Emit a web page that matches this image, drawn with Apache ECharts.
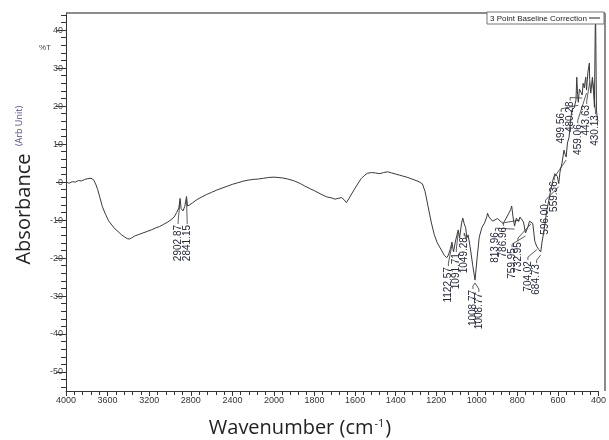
<!DOCTYPE html>
<html><head><meta charset="utf-8">
<script src="https://cdn.jsdelivr.net/npm/echarts@6/dist/echarts.min.js"></script>
<style>html,body{margin:0;padding:0;background:#fff}#c{width:609px;height:440px}</style>
</head><body><div id="c"></div>
<script>
// ---- data ----
const wavenumber = [
 4000,3970,3940,3910,3880,3850,3820,3790,3760,3735,3715,3695,3675,3650,3620,3590,3560,3530,3500,3470,3440,3410,3390,3370,3340,3300,3260,3220,3180,3140,3100,3060,3020,2990,2960,2935,2915,2902.87,2893,2875,2858,2841.15,2832,2810,2780,2740,2700,2650,2600,2550,2500,2450,2400,2350,2300,2250,2200,2150,2100,2050,2000,
 1960,1932,1900,1870,1850,1820,1800,1768,1740,1715,1700,1685,1667,1655,1643,1630,1615,1600,1585,1570,1555,1540,1520,1500,1478,1460,1440,1420,1400,1380,1360,1340,1320,1300,1285,1268,1255,1240,1225,1210,1195,1175,1160,1148,1140,1130,1122.57,1115,1105,1091.71,1085,1075,1069,1062,1055,1049.28,1043,1033,1020,1008.77,998,988,975,962,950,947,940,922,898,880,870,855,840,833,828,822,813.96,805,795,786.96,778,770,759.95,748,740,732.95,724,714,704.02,694,684.73,679,668,655,645,635,625,615,608,603,596.00,590,580,570,564,559.36,553,545,538,531,520,511,507,503,499.56,494,487,480.28,476,470,463,459.06,452,445,443.63,438,430.13,424,420,416,414,410,405,400
];
const transmittance = [
 0.0,-0.3,0.1,0.0,0.4,0.3,0.7,0.9,1.0,0.6,-0.5,-2.0,-4.0,-6.5,-8.5,-10.2,-11.3,-12.3,-13.0,-13.8,-14.4,-14.9,-15.0,-14.7,-14.2,-13.8,-13.4,-13.0,-12.6,-12.1,-11.7,-11.1,-10.5,-9.9,-9.2,-8.0,-6.8,-4.3,-7.0,-7.6,-6.4,-3.8,-6.3,-6.0,-5.4,-4.6,-4.0,-3.3,-2.7,-2.1,-1.6,-1.1,-0.6,-0.2,0.2,0.5,0.7,0.8,1.0,1.2,1.3,
 1.1,0.8,0.3,-0.4,-1.0,-1.8,-2.3,-3.2,-3.9,-4.2,-4.5,-4.3,-4.1,-4.6,-5.4,-4.3,-2.9,-1.6,-0.3,0.9,1.7,2.3,2.5,2.4,2.2,2.5,2.7,2.4,2.1,1.8,1.5,1.2,0.8,0.4,0.1,-0.5,-2.5,-6.5,-10.5,-13.8,-16.0,-17.9,-19.3,-19.9,-19.2,-17.5,-15.8,-18.4,-15.5,-12.6,-14.7,-10.8,-9.5,-11.0,-12.0,-14.7,-13.9,-17.0,-22.0,-25.8,-19.7,-14.5,-12.0,-10.8,-9.0,-8.2,-9.2,-10.3,-9.6,-10.5,-10.9,-9.5,-8.0,-7.2,-6.3,-9.0,-11.6,-9.5,-10.4,-9.2,-9.0,-10.5,-13.4,-11.8,-10.3,-10.2,-10.9,-15.6,-17.0,-17.8,-18.4,-16.0,-12.6,-7.5,-4.8,-2.0,0.5,2.2,2.6,1.5,-0.4,2.6,5.0,8.4,7.2,6.6,10.3,11.8,16.0,19.0,19.5,21.6,27.6,23.0,21.0,24.5,25.0,22.9,26.0,24.8,27.6,24.2,29.0,31.3,27.0,23.4,27.6,24.5,19.7,40.8,42.6,19.0,16.3,16.0
];
const peakLabels = ['2902.87','2841.15','1122.57','1091.71','1049.28','1008.77','1008.77','813.96','786.96','759.95','732.95','704.02','684.73','596.00','559.36','499.56','480.28','459.06','443.63','430.13'];
const peakWavenumbers = [2902.87,2841.15,1122.57,1091.71,1049.28,1008.77,1008.77,813.96,786.96,759.95,732.95,704.02,684.73,596.00,559.36,499.56,480.28,459.06,443.63,430.13];
const yTickValues = [-50,-40,-30,-20,-10,0,10,20,30,40];
const seriesName = '3 Point Baseline Correction';

// ---- layout of the rotated peak labels: [wavenumber of text, value at top of text] ----
const labelAnchors = [[2922,-11.3],[2835,-11.3],[1140,-22.4],[1101,-18.7],[1062,-14.5],[1019,-28.4],[990,-29.2],[908,-13.2],[869,-11.8],[826,-17.4],[797,-15.8],[748,-20.8],[705,-21.6],[661,-5.8],[618,0.2],[584,18.2],[540,21.2],[502,15.2],[458,20.3],[415,17.6]];

const yMinorValues = [];
for (let v = -54; v <= 44; v += 2) if (v % 10 !== 0) yMinorValues.push(v);

const pts = wavenumber.map((w, i) => [w, transmittance[i]]);
const hiPts = pts.filter(p => p[0] >= 2000);
const loPts = pts.filter(p => p[0] <= 2000);

function peakValue(w) { return transmittance[wavenumber.indexOf(w)]; }
const annHi = [], annLo = [];
peakWavenumbers.forEach((w, i) => {
  const item = [w, peakValue(w), labelAnchors[i][0], labelAnchors[i][1], i];
  (w >= 2000 ? annHi : annLo).push(item);
});

const FONT_NARROW = '"Liberation Sans Narrow","Liberation Sans",Arial,sans-serif';
const Y_MIN = -55, Y_MAX = 44.5;

function renderAnn(params, api) {
  const peak = api.coord([api.value(0), api.value(1)]);
  const txt = api.coord([api.value(2), api.value(3)]);
  const idx = api.value(4);
  return {
    type: 'group',
    children: [
      { type: 'polyline', shape: { points: [[txt[0], txt[1] - 1], [txt[0], txt[1] - 4], [peak[0], peak[1] + 3]] },
        style: { stroke: '#333', lineWidth: 0.8, fill: null } },
      { type: 'text', x: txt[0], y: txt[1], rotation: Math.PI / 2,
        style: { text: peakLabels[idx], align: 'right', verticalAlign: 'middle', font: '10px "Liberation Sans",Arial,sans-serif', fill: '#22263a' } }
    ]
  };
}

const commonX = {
  type: 'value', inverse: true,
  axisLine: { show: true, onZero: false, lineStyle: { color: '#333', width: 1 } },
  axisTick: { show: true, length: 5, lineStyle: { color: '#333' } },
  minorTick: { show: true, splitNumber: 5, length: 4, lineStyle: { color: '#333' } },
  splitLine: { show: false },
  axisLabel: { color: '#333', fontSize: 9, fontFamily: FONT_NARROW, margin: 5, formatter: v => String(v) }
};

const chart = echarts.init(document.getElementById('c'), null, { renderer: 'canvas' });
chart.setOption({
  animation: false,
  backgroundColor: '#fff',
  grid: [
    { left: 66, top: 13, width: 208, height: 378 },
    { left: 274, top: 13, width: 331, height: 378 }
  ],
  xAxis: [
    Object.assign({}, commonX, { gridIndex: 0, min: 2000, max: 4000, interval: 400,
      axisLabel: Object.assign({}, commonX.axisLabel, { formatter: v => v === 2000 ? '' : String(v) }) }),
    Object.assign({}, commonX, { gridIndex: 1, min: 400, max: 2000, interval: 200 })
  ],
  yAxis: [
    { type: 'value', gridIndex: 0, min: Y_MIN, max: Y_MAX, position: 'left',
      axisLine: { show: true, onZero: false, lineStyle: { color: '#333' } },
      axisTick: { show: true, length: 10, customValues: yTickValues, lineStyle: { color: '#333' } },
      axisLabel: { show: true, customValues: yTickValues, color: '#444', fontSize: 9, fontFamily: FONT_NARROW, margin: 3 },
      splitLine: { show: false } },
    { type: 'value', gridIndex: 0, min: Y_MIN, max: Y_MAX, position: 'left', offset: 0,
      axisLine: { show: false, onZero: false },
      axisTick: { show: true, length: 5, customValues: yMinorValues, lineStyle: { color: '#333' } },
      axisLabel: { show: false },
      splitLine: { show: false } },
    { type: 'value', gridIndex: 1, min: Y_MIN, max: Y_MAX, show: false }
  ],
  series: [
    { name: seriesName, type: 'line', xAxisIndex: 0, yAxisIndex: 0, data: hiPts, showSymbol: false, symbol: 'none',
      lineStyle: { color: '#3a3a3a', width: 1 }, silent: true },
    { name: seriesName, type: 'line', xAxisIndex: 1, yAxisIndex: 2, data: loPts, showSymbol: false, symbol: 'none',
      lineStyle: { color: '#3a3a3a', width: 1 }, silent: true },
    { type: 'custom', xAxisIndex: 0, yAxisIndex: 0, data: annHi, renderItem: renderAnn, silent: true },
    { type: 'custom', xAxisIndex: 1, yAxisIndex: 2, data: annLo, renderItem: renderAnn, silent: true }
  ],
  graphic: [
    { type: 'line', shape: { x1: 66, y1: 13, x2: 605, y2: 13 }, style: { stroke: '#666', lineWidth: 1.5 }, z: 10 },
    { type: 'line', shape: { x1: 605, y1: 13, x2: 605, y2: 391 }, style: { stroke: '#666', lineWidth: 1.5 }, z: 10 },
    { type: 'rect', shape: { x: 487, y: 12, width: 117, height: 12 }, style: { fill: '#fff', stroke: '#777', lineWidth: 1 }, z: 20 },
    { type: 'text', x: 490, y: 18.5, style: { text: seriesName, font: '8px ' + FONT_NARROW, fill: '#222', verticalAlign: 'middle' }, z: 21 },
    { type: 'line', shape: { x1: 589, y1: 18, x2: 600, y2: 18 }, style: { stroke: '#222', lineWidth: 1 }, z: 21 },
    { type: 'text', x: 45, y: 48, style: { text: '%T', font: '8px ' + FONT_NARROW, fill: '#444', align: 'center', verticalAlign: 'middle' } },
    { type: 'text', x: 24, y: 209, rotation: Math.PI / 2,
      style: { text: 'Absorbance', font: '20px "Open Sans",sans-serif', fill: '#222', align: 'center', verticalAlign: 'middle' } },
    { type: 'text', x: 19, y: 126, rotation: Math.PI / 2,
      style: { text: '(Arb Unit)', font: '9px "Open Sans",sans-serif', fill: '#4a4a8a', align: 'center', verticalAlign: 'middle' } },
    { type: 'text', x: 300, y: 428,
      style: { text: '{a|Wavenumber (cm}{s|-1}{a|)}', align: 'center', verticalAlign: 'middle',
        rich: { a: { font: '20px "Open Sans",sans-serif', fill: '#222' }, s: { font: '11px "Open Sans",sans-serif', fill: '#222', verticalAlign: 'top', padding: [0, 1, 8, 1] } } } }
  ]
});
</script></body></html>
